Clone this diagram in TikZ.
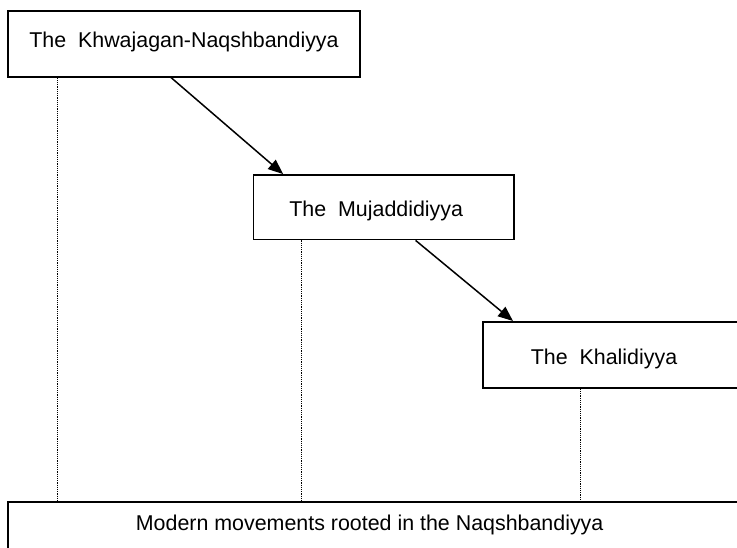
\documentclass[tikz,border=0pt]{standalone}
\usepackage{fontspec}
\setmainfont{Liberation Sans}
\usetikzlibrary{arrows.meta}
\begin{document}
\begin{tikzpicture}[x=1pt,y=-1pt,
  box/.style={draw, line width=1.8pt, inner sep=0pt, fill=white,
    font=\fontsize{21.4}{25}\selectfont},
  arr/.style={line width=1.5pt, -{Triangle[length=15pt,width=12pt]}},
  dotline/.style={line width=1pt, dash pattern=on 1.1pt off 1.1pt}]
\useasboundingbox (0,0) rectangle (737,547);
\clip (0,0) rectangle (737,547);
\node[box, minimum width=352pt, minimum height=65.7pt, text height=15.5pt, text depth=9.2pt]
  (b1) at (184,43.85) {The\ \ Khwajagan-Naqshbandiyya};
\node[box, minimum width=260.5pt, minimum height=64.5pt, text height=22pt, text depth=4.5pt]
  (b2) at (383.75,207.25) {The\ \ Mujaddidiyya\hspace*{15pt}};
\node[box, anchor=north west, minimum height=66pt, text height=23pt, text depth=4.4pt]
  (b3) at (482,321) {\hspace*{48pt}The\ \ Khalidiyya\hspace*{150pt}};
\node[box, anchor=north west, minimum height=50pt, text height=15.5pt, text depth=7.5pt]
  (b4) at (7,501) {\hspace*{128pt}Modern movements rooted in the Naqshbandiyya\hspace*{200pt}};
\draw[dotline] ([xshift=50pt]b1.south west) -- ([xshift=50pt]b1.south west |- b4.north);
\draw[dotline] ([xshift=48.5pt]b2.south west) -- ([xshift=48.5pt]b2.south west |- b4.north);
\draw[dotline] ([xshift=98pt]b3.south west) -- ([xshift=98pt]b3.south west |- b4.north);
\draw[arr] ([xshift=164pt]b1.south west) -- ([xshift=30.5pt]b2.north west);
\draw[arr] ([xshift=163pt]b2.south west) -- ([xshift=31pt]b3.north west);
\end{tikzpicture}
\end{document}
